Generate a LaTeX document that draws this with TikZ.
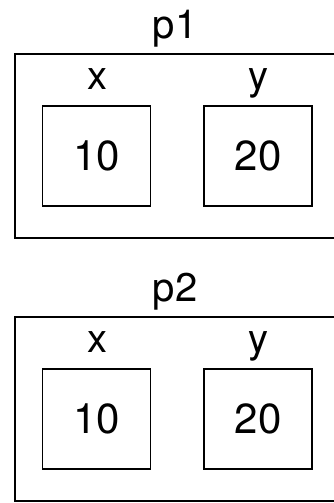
\documentclass[tikz,border=0pt]{standalone}
\usepackage{fontspec}
\setmainfont{TeX Gyre Heros}
\begin{document}
\begin{tikzpicture}[x=1pt,y=1pt,
  outerbox/.style={draw, line width=1.8pt, rectangle, minimum width=322pt, minimum height=184pt, anchor=north west, inner sep=0pt},
  cell/.style={draw, line width=1.8pt, rectangle, minimum width=108pt, minimum height=100pt, inner sep=0pt, font=\fontsize{42}{46}\selectfont},
  lbl/.style={anchor=base, inner sep=0pt, font=\fontsize{40}{44}\selectfont}]
\useasboundingbox (0,0) rectangle (334,503);
\clip (0,0) rectangle (334,503);
% p1
\node[outerbox] (p1) at (14,450) {};
\node[lbl] (p1lbl) at (175,464) {p1};
\node[cell] (p1x) at (96.5,347) {10};
\node[cell] (p1y) at (258,347) {20};
\node[lbl] (p1xl) at (97,413) {x};
\node[lbl] (p1yl) at (258,413) {y};
% p2
\node[outerbox] (p2) at (14,187) {};
\node[lbl] (p2lbl) at (175,201) {p2};
\node[cell] (p2x) at (96.5,84) {10};
\node[cell] (p2y) at (258,84) {20};
\node[lbl] (p2xl) at (97,150) {x};
\node[lbl] (p2yl) at (258,150) {y};
\end{tikzpicture}
\end{document}
